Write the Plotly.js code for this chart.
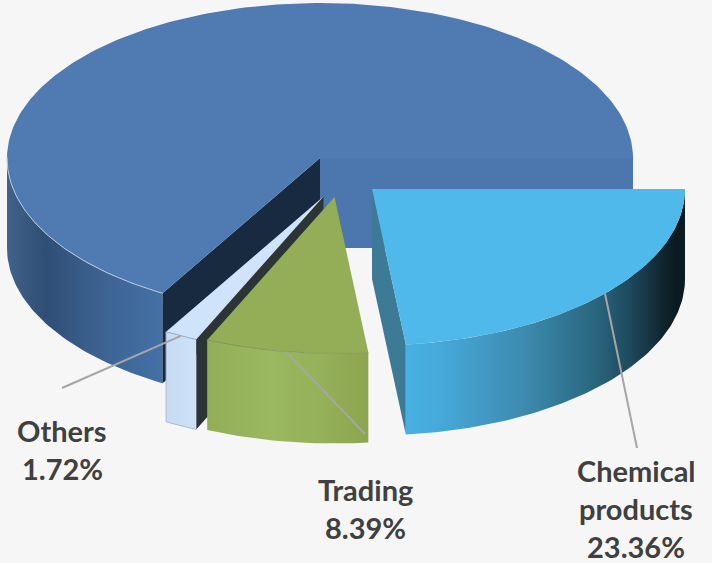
<!DOCTYPE html>
<html>
<head>
<meta charset="utf-8">
<script src="https://cdn.plot.ly/plotly-3.0.1.min.js"></script>
<style>html,body{margin:0;padding:0;background:#f6f6f6}#chart{width:712px;height:563px}</style>
</head>
<body>
<div id="chart"></div>
<script>
// Revenue share by segment, in percent, clockwise from the 3 o'clock position
const segments = ['Chemical products', 'Trading', 'Others', 'Remaining business'];
const shares = [23.36, 8.39, 1.72, 66.53];
const labelLines = [['Chemical', 'products'], ['Trading'], ['Others']];

// Projection of the tilted disc onto the page: the near half reads slightly deeper
const RX = 313, RY_FAR = 155, RY_NEAR = 156.5, DEPTH = 90;
// Apex of each slice after it is pulled out of the pie
const apexX = [372, 334.5, 323.5, 320];
const apexY = [189, 197, 196.5, 158];
// Small rotation of the inner slice boundaries
const TURN = 0.3;

// Start and end angle of every slice, in degrees
const spans = [];
let cursor = 0;
shares.forEach((s, i) => {
  const start = i === 0 ? 0 : cursor + TURN;
  cursor -= s * 3.6;
  const end = i === shares.length - 1 ? -360 : cursor + TURN;
  spans.push([start, end]);
});

const pt = (i, deg, drop = 0) => {
  const r = deg * Math.PI / 180, s = Math.sin(r);
  return [apexX[i] + RX * Math.cos(r), apexY[i] - (s < 0 ? RY_NEAR : RY_FAR) * s + drop];
};
const arc = (i, a, b, drop = 0) => {
  const out = [], n = Math.max(2, Math.ceil(Math.abs(b - a)));
  for (let k = 0; k <= n; k++) out.push(pt(i, a + (b - a) * k / n, drop));
  return out;
};
const apex = (i, drop = 0) => [apexX[i], apexY[i] + drop];

const poly = (points, style) => Object.assign({
  type: 'scatter', mode: 'lines', fill: 'toself',
  x: points.map(p => p[0]), y: points.map(p => p[1]),
  line: {width: 0}, hoverinfo: 'skip', showlegend: false
}, style);
const flat = c => ({fillcolor: c});
const ramp = scale => ({fillgradient: {type: 'horizontal', colorscale: scale}});
const edge = (points, color, width = 1) => ({
  type: 'scatter', mode: 'lines',
  x: points.map(p => p[0]), y: points.map(p => p[1]),
  line: {color, width}, hoverinfo: 'skip', showlegend: false
});
const wall = (i, a, b) => arc(i, a, b).concat(arc(i, b, a, DEPTH));
const cutFace = (i, deg) => [apex(i), pt(i, deg), pt(i, deg, DEPTH), apex(i, DEPTH)];

const [chem, trade, other, main] = [0, 1, 2, 3];
const mainCut = spans[main][0];

const traces = [
  // Large slice
  poly([apex(main), pt(main, 0), pt(main, 0, DEPTH), apex(main, DEPTH)], flat('#4c76ae')),
  poly(arc(main, -180, mainCut).concat(arc(main, mainCut, -180, DEPTH)),
       ramp([[0, '#41628a'], [0.25, '#2f4e76'], [0.6, '#3d6291'], [1, '#4471a7']])),
  poly(cutFace(main, mainCut), flat('#182a3f')),
  poly([apex(main)].concat(arc(main, mainCut, spans[main][1])), flat('#4f7bb2')),
  edge(arc(main, -180, mainCut), '#b9c9dc', 1),

  // Others
  poly(cutFace(other, spans[other][0]), flat('#2d3436')),
  poly(wall(other, spans[other][0], spans[other][1]), ramp([[0, '#c7dbf3'], [1, '#cde1f9']])),
  poly([apex(other)].concat(arc(other, spans[other][0], spans[other][1])), flat('#cfe3fb')),
  edge(arc(other, spans[other][1], spans[other][0]), '#9fb0c6', 1),
  edge([pt(other, spans[other][1])].concat(arc(other, spans[other][1], spans[other][0], DEPTH)), '#a9bbd3', 1),

  // Trading
  poly(wall(trade, spans[trade][0], spans[trade][1]),
       ramp([[0, '#92af58'], [0.4, '#9ab85f'], [0.7, '#95b159'], [1, '#8ca54e']])),
  poly([apex(trade)].concat(arc(trade, spans[trade][0], spans[trade][1])), flat('#93ae57')),
  edge(arc(trade, spans[trade][1], spans[trade][0]), '#8a9c62', 1),

  // Chemical products
  poly(cutFace(chem, spans[chem][1]), flat('#3d7a95')),
  poly(wall(chem, spans[chem][0], spans[chem][1]),
       ramp([[0, '#47b0e2'], [0.12, '#46a9da'], [0.42, '#3d8bb0'], [0.67, '#2a6880'],
             [0.8, '#1f4a5e'], [0.92, '#10262f'], [0.97, '#0a1a20'], [1, '#0c1c22']])),
  poly([apex(chem)].concat(arc(chem, spans[chem][0], spans[chem][1])), flat('#4fb9ec')),
];

// Leader lines run from the middle of each slice's rim to its label
const leaderEnds = [[637, 448], [365, 434], [62, 388]];
leaderEnds.forEach((end, i) => {
  const mid = (spans[i][0] + spans[i][1]) / 2;
  traces.push(edge([pt(i, mid), end], '#a6a6a6', 2));
});

// Label lines: name lines first, then the share
const labelX = [636, 365, 62];
const labelTop = [470.5, 489.5, 430.5];
const lineGap = 38;
const annotations = [];
labelLines.forEach((lines, i) => {
  lines.concat([shares[i].toFixed(2) + '%']).forEach((text, k) => {
    annotations.push({
      x: labelX[i], y: labelTop[i] + k * lineGap, xref: 'x', yref: 'y',
      text, showarrow: false, xanchor: 'center', yanchor: 'middle',
      font: {family: 'Lato, sans-serif', size: 29, color: '#404040', weight: 700}
    });
  });
});

Plotly.newPlot('chart', traces, {
  width: 712, height: 563,
  margin: {l: 0, r: 0, t: 0, b: 0},
  paper_bgcolor: '#f6f6f6', plot_bgcolor: '#f6f6f6',
  xaxis: {range: [0, 712], visible: false, fixedrange: true},
  yaxis: {range: [563, 0], visible: false, fixedrange: true},
  showlegend: false, hovermode: false, annotations
}, {displayModeBar: false, staticPlot: true});
</script>
</body>
</html>
